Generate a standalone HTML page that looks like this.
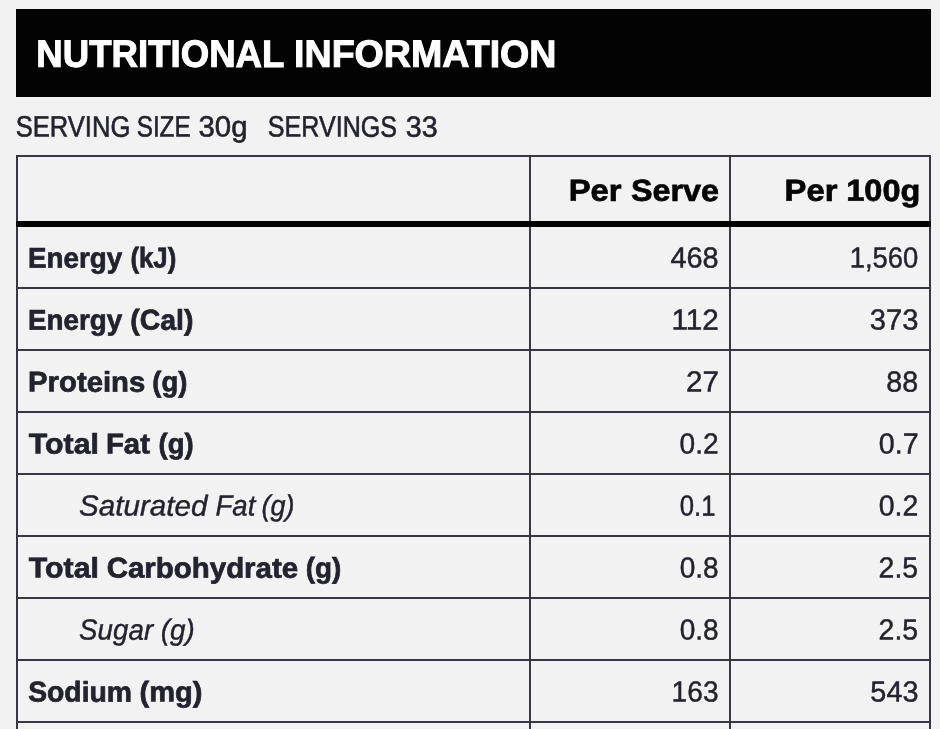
<!DOCTYPE html>
<html lang="en">
<head>
<meta charset="utf-8">
<title>Nutritional Information</title>
<style>
html,body{margin:0;padding:0;}
body{width:940px;height:729px;overflow:hidden;background:#f2f2f2;
 font-family:"Liberation Sans",sans-serif;color:#23232f;}
h2,p{margin:0;padding:0;font-weight:normal;}
.bar{position:absolute;left:16px;top:9px;width:915px;height:88px;background:#030303;}
table{margin:155px 0 0 16px;width:913px;border-collapse:collapse;table-layout:fixed;}
th,td{border:2px solid #373746;padding:0;font-weight:normal;}
thead th{border-bottom:6px solid #020202;height:64px;}
tbody tr:first-child td{border-top:6px solid #020202;}
tbody td{height:60px;}

.w{position:absolute;left:0;top:0;white-space:pre;line-height:1;transform-origin:0 0;}
.ti{font-size:38.1px;font-weight:bold;color:#fff;-webkit-text-stroke:1px #fff;}
.sv{font-size:29.4px;-webkit-text-stroke:0.6px #23232f;}
.th{font-size:30.4px;font-weight:bold;color:#050505;-webkit-text-stroke:0.7px #050505;}
.lb{font-size:28.6px;font-weight:bold;-webkit-text-stroke:0.7px #23232f;}
.it{font-size:29.1px;font-style:italic;-webkit-text-stroke:0.4px #23232f;}
.nm{font-size:29px;-webkit-text-stroke:0.45px #23232f;}
</style>
</head>
<body>
<div class="bar"></div>
<h2><span class="w ti" style="transform:matrix(0.9610,0.001,0,1,36.35,34.68)">NUTRITIONAL</span> <span class="w ti" style="transform:matrix(0.9872,0.001,0,1,294.07,34.68)">INFORMATION</span></h2>
<p><span class="w sv" style="transform:matrix(0.8700,0.001,0,1,15.67,111.54)">SERVING</span> <span class="w sv" style="transform:matrix(0.8259,0.001,0,1,136.69,111.56)">SIZE</span> <span class="w sv" style="transform:matrix(0.9979,0.001,0,1,198.52,111.54)">30g</span> <span class="w sv" style="transform:matrix(0.8533,0.001,0,1,267.83,111.54)">SERVINGS</span> <span class="w sv" style="transform:matrix(0.9748,0.001,0,1,405.70,111.63)">33</span></p>
<table>
<colgroup><col style="width:513px"><col style="width:200px"><col style="width:200px"></colgroup>
<thead><tr><th></th><th><span class="w th" style="transform:matrix(1.0788,0.001,0,1,568.75,174.85)">Per</span> <span class="w th" style="transform:matrix(1.0633,0.001,0,1,630.93,174.85)">Serve</span></th><th><span class="w th" style="transform:matrix(1.0791,0.001,0,1,784.59,174.85)">Per</span> <span class="w th" style="transform:matrix(1.0691,0.001,0,1,846.30,174.85)">100g</span></th></tr></thead>
<tbody>
<tr><td><span class="w lb" style="transform:matrix(0.9708,0.001,0,1,28.05,243.63)">Energy</span> <span class="w lb" style="transform:matrix(0.9009,0.001,0,1,130.46,243.59)">(kJ)</span></td><td><span class="w nm" style="transform:matrix(0.9979,0.001,0,1,670.40,243.58)">468</span></td><td><span class="w nm" style="transform:matrix(0.9457,0.001,0,1,849.70,243.55)">1,560</span></td></tr>
<tr><td><span class="w lb" style="transform:matrix(0.9708,0.001,0,1,28.05,305.63)">Energy</span> <span class="w lb" style="transform:matrix(0.9948,0.001,0,1,130.23,305.60)">(Cal)</span></td><td><span class="w nm" style="transform:matrix(1.0262,0.001,0,1,671.42,305.61)">112</span></td><td><span class="w nm" style="transform:matrix(1.0071,0.001,0,1,869.85,305.59)">373</span></td></tr>
<tr><td><span class="w lb" style="transform:matrix(1.0242,0.001,0,1,28.09,367.59)">Proteins</span> <span class="w lb" style="transform:matrix(0.9582,0.001,0,1,152.30,367.61)">(g)</span></td><td><span class="w nm" style="transform:matrix(1.0218,0.001,0,1,685.91,367.56)">27</span></td><td><span class="w nm" style="transform:matrix(0.9879,0.001,0,1,886.29,367.58)">88</span></td></tr>
<tr><td><span class="w lb" style="transform:matrix(1.0583,0.001,0,1,28.84,429.57)">Total</span> <span class="w lb" style="transform:matrix(1.0255,0.001,0,1,105.91,429.58)">Fat</span> <span class="w lb" style="transform:matrix(0.9619,0.001,0,1,158.48,429.54)">(g)</span></td><td><span class="w nm" style="transform:matrix(0.9700,0.001,0,1,679.59,429.58)">0.2</span></td><td><span class="w nm" style="transform:matrix(0.9870,0.001,0,1,878.80,429.59)">0.7</span></td></tr>
<tr><td><span class="w it" style="transform:matrix(1.0176,0.001,0,1,79.04,491.55)">Saturated</span> <span class="w it" style="transform:matrix(0.9486,0.001,0,1,215.47,491.57)">Fat</span> <span class="w it" style="transform:matrix(0.9299,0.001,0,1,261.53,491.58)">(g)</span></td><td><span class="w nm" style="transform:matrix(0.8872,0.001,0,1,679.75,491.62)">0.1</span></td><td><span class="w nm" style="transform:matrix(0.9811,0.001,0,1,878.79,491.58)">0.2</span></td></tr>
<tr><td><span class="w lb" style="transform:matrix(1.0583,0.001,0,1,28.84,553.57)">Total</span> <span class="w lb" style="transform:matrix(1.0298,0.001,0,1,106.69,553.59)">Carbohydrate</span> <span class="w lb" style="transform:matrix(0.9734,0.001,0,1,305.64,553.62)">(g)</span></td><td><span class="w nm" style="transform:matrix(0.9670,0.001,0,1,679.63,553.58)">0.8</span></td><td><span class="w nm" style="transform:matrix(0.9818,0.001,0,1,878.60,553.59)">2.5</span></td></tr>
<tr><td><span class="w it" style="transform:matrix(0.9533,0.001,0,1,79.11,615.58)">Sugar</span> <span class="w it" style="transform:matrix(0.9571,0.001,0,1,160.78,615.62)">(g)</span></td><td><span class="w nm" style="transform:matrix(0.9670,0.001,0,1,679.63,615.58)">0.8</span></td><td><span class="w nm" style="transform:matrix(0.9818,0.001,0,1,878.60,615.59)">2.5</span></td></tr>
<tr><td><span class="w lb" style="transform:matrix(0.9914,0.001,0,1,28.13,677.58)">Sodium</span> <span class="w lb" style="transform:matrix(1.0159,0.001,0,1,139.56,677.60)">(mg)</span></td><td><span class="w nm" style="transform:matrix(0.9697,0.001,0,1,671.61,677.56)">163</span></td><td><span class="w nm" style="transform:matrix(0.9938,0.001,0,1,870.37,677.59)">543</span></td></tr>
<tr><td></td><td></td><td></td></tr>
</tbody>
</table>
</body>
</html>
